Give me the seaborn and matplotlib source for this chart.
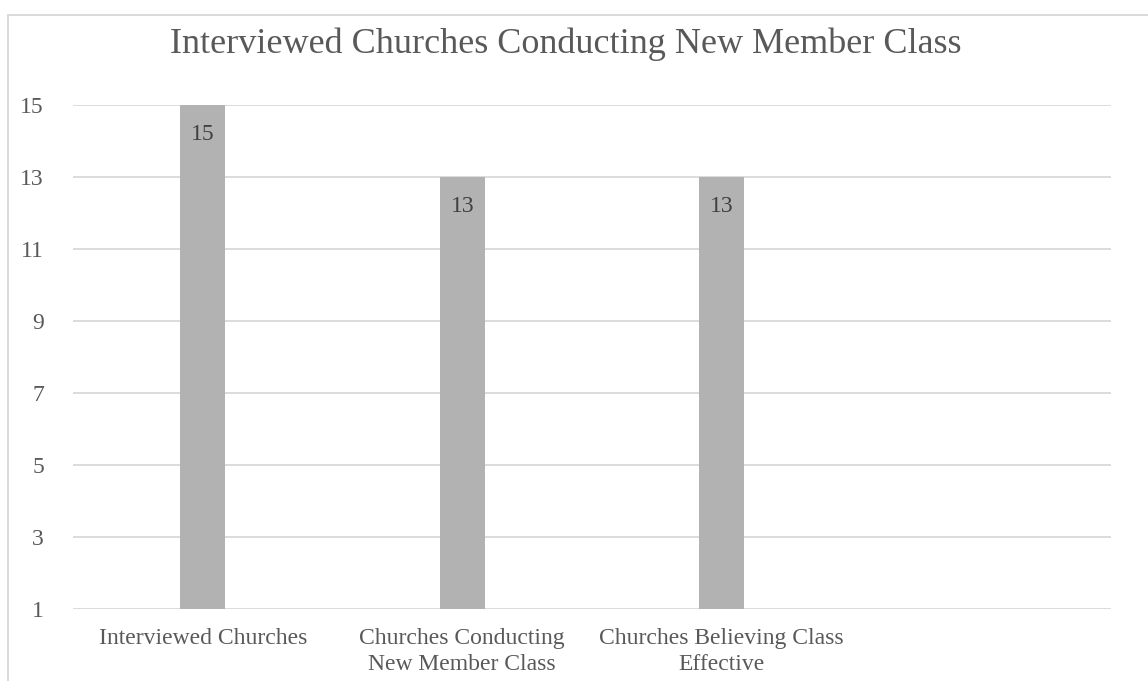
import matplotlib
matplotlib.use("Agg")
import matplotlib.pyplot as plt
import matplotlib.patches as mpatches
import seaborn as sns
import pandas as pd

categories = ["Interviewed Churches",
              "Churches Conducting\nNew Member Class",
              "Churches Believing Class\nEffective"]
values = [15, 13, 13]
yticks = [1, 3, 5, 7, 9, 11, 13, 15]
title = "Interviewed Churches Conducting New Member Class"

sns.set_theme(style="white")
plt.rcParams['font.family'] = ['Liberation Serif', 'DejaVu Serif']

W, H = 1148, 681
fig = plt.figure(figsize=(W / 100, H / 100), dpi=100)
ax = fig.add_axes([73 / W, 1 - 609 / H, (1111 - 73) / W, (609 - 105) / H])

df = pd.DataFrame({"cat": categories, "val": values})
sns.barplot(data=df, x="cat", y="val", ax=ax, color="#b2b2b2",
            saturation=1, width=0.173, order=categories, linewidth=0)

ax.set_xlim(-0.5, 3.5)
ax.set_ylim(1, 15)
ax.set_yticks(yticks)
ax.set_yticklabels([str(t) for t in yticks])
ax.grid(axis="y", color="#d9d9d9", linewidth=1.3)
ax.set_axisbelow(True)
for s in ax.spines.values():
    s.set_visible(False)
ax.tick_params(axis="both", length=0, colors="#595959", labelsize=17)
ax.tick_params(axis="y", pad=21)
ax.tick_params(axis="x", pad=14)
for lab in ax.get_xticklabels():
    lab.set_linespacing(1.3)
ax.set_xlabel("")
ax.set_ylabel("")

for bar, v in zip(ax.patches, values):
    ax.annotate(str(v), (bar.get_x() + bar.get_width() / 2, v),
                xytext=(0, -21), textcoords="offset points",
                ha="center", va="center", fontsize=17, color="#404040")

fig.text(566 / W, 1 - 53 / H, title, ha="center", va="baseline",
         fontsize=26, color="#595959")

rect = mpatches.Rectangle((8 / W, -0.1), 1.2, (1 - 15 / H) + 0.1,
                          transform=fig.transFigure, fill=False,
                          edgecolor="#d9d9d9", linewidth=1.4, clip_on=False)
fig.patches.append(rect)

fig.savefig("out.png", dpi=100)
